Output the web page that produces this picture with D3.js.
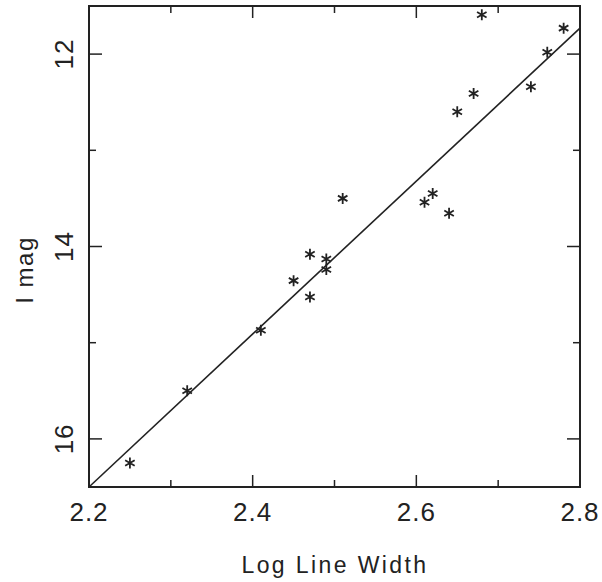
<!DOCTYPE html>
<html><head><meta charset="utf-8">
<script src="https://cdn.jsdelivr.net/npm/d3@7"></script>
<style>body{margin:0;background:#fff}svg{display:block}</style>
</head><body>
<script>
const logWidth = [2.25,2.32,2.41,2.45,2.47,2.47,2.49,2.49,2.51,2.61,2.62,2.64,2.65,2.67,2.68,2.74,2.76,2.78];
const iMag     = [16.25,15.50,14.87,14.355,14.08,14.525,14.13,14.24,13.50,13.54,13.45,13.655,12.60,12.41,11.59,12.34,11.98,11.73];
const fitLine  = [[2.2,16.5],[2.8,11.73]];
const xTicks = [2.2,2.3,2.4,2.5,2.6,2.7,2.8];
const xLabels = ["2.2","2.4","2.6","2.8"];
const yTicks = [12,13,14,15,16];
const yLabels = ["12","14","16"];

const W=602,H=582;
const L=89,R=580,T=6,B=487;
const svg=d3.select("body").append("svg").attr("width",W).attr("height",H);
const x=d3.scaleLinear().domain([2.2,2.8]).range([L,R]);
const y=d3.scaleLinear().domain([11.5,16.5]).range([T,B]);
const ink="#222";
const font="'Liberation Sans', Arial, sans-serif";

svg.append("rect").attr("x",L).attr("y",T).attr("width",R-L).attr("height",B-T)
  .attr("fill","none").attr("stroke",ink).attr("stroke-width",2);

const isMajX=v=>xLabels.includes(v.toFixed(1));
const isMajY=v=>yLabels.includes(String(v));
xTicks.forEach(v=>{
  const len=isMajX(v)?12:7;
  svg.append("line").attr("x1",x(v)).attr("x2",x(v)).attr("y1",B).attr("y2",B-len).attr("stroke",ink).attr("stroke-width",1.5);
  svg.append("line").attr("x1",x(v)).attr("x2",x(v)).attr("y1",T).attr("y2",T+len).attr("stroke",ink).attr("stroke-width",1.5);
});
yTicks.forEach(v=>{
  const len=isMajY(v)?13:7;
  svg.append("line").attr("y1",y(v)).attr("y2",y(v)).attr("x1",L).attr("x2",L+len).attr("stroke",ink).attr("stroke-width",1.5);
  svg.append("line").attr("y1",y(v)).attr("y2",y(v)).attr("x1",R).attr("x2",R-len).attr("stroke",ink).attr("stroke-width",1.5);
});
xLabels.forEach(s=>{
  svg.append("text").attr("x",x(+s)).attr("y",521).attr("text-anchor","middle")
    .attr("font-family",font).attr("font-size",26).attr("letter-spacing",1).attr("fill",ink).text(s);
});
yLabels.forEach(s=>{
  svg.append("text").attr("transform",`translate(73,${y(+s)}) rotate(-90)`).attr("text-anchor","middle")
    .attr("font-family",font).attr("font-size",26).attr("letter-spacing",1).attr("fill",ink).text(s);
});
svg.append("text").attr("x",335).attr("y",573).attr("text-anchor","middle")
  .attr("font-family",font).attr("font-size",23).attr("letter-spacing",2.4).attr("fill",ink).text("Log Line Width");
svg.append("text").attr("transform",`translate(33,270) rotate(-90)`).attr("text-anchor","middle")
  .attr("font-family",font).attr("font-size",24).attr("letter-spacing",1.5).attr("fill",ink).text("I mag");

const line=d3.line().x(d=>x(d[0])).y(d=>y(d[1]));
svg.append("path").attr("d",line(fitLine)).attr("fill","none").attr("stroke",ink).attr("stroke-width",1.6);

const r=5.5;
const star=`M0,${-r}L0,${r}M${-r*0.866},${-r*0.5}L${r*0.866},${r*0.5}M${-r*0.866},${r*0.5}L${r*0.866},${-r*0.5}`;
svg.selectAll("path.pt").data(logWidth.map((v,i)=>[v,iMag[i]])).enter().append("path")
  .attr("class","pt").attr("transform",d=>`translate(${x(d[0])},${y(d[1])})`)
  .attr("d",star).attr("stroke",ink).attr("stroke-width",1.8).attr("fill","none");
</script>
</body></html>
